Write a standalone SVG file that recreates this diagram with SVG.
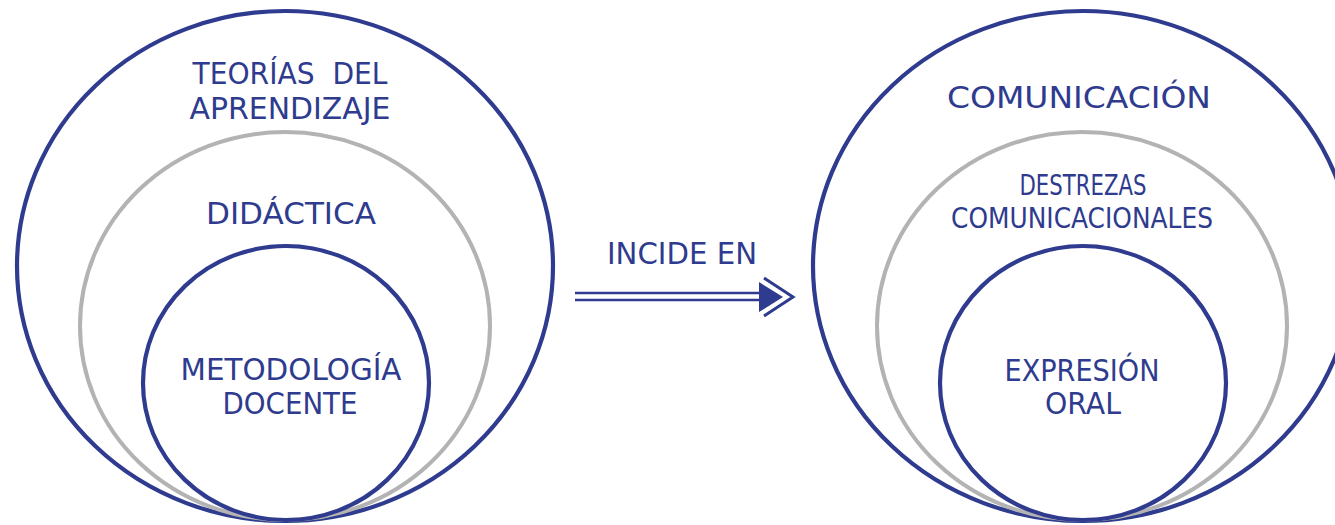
<svg xmlns="http://www.w3.org/2000/svg" width="1335" height="525" viewBox="0 0 1335 525">
<style>
.bg{fill:#ffffff}
.blue{fill:none;stroke:#2e3b8e;stroke-width:4.2}
.gray{fill:none;stroke:#b3b3b3;stroke-width:4}
.t{font-family:"DejaVu Sans","Liberation Sans",sans-serif;fill:#2e3b8e;text-anchor:middle;font-size:31px}
.m{font-size:30px}
.s{font-size:29px}
.ln{stroke:#2e3b8e;stroke-width:2.5;fill:none}
</style>
<rect class="bg" x="0" y="0" width="1335" height="525"/>
<g id="teorias">
<ellipse class="blue" cx="285" cy="266" rx="268" ry="255"/>
<text class="t m" x="290" y="84" textLength="195" lengthAdjust="spacingAndGlyphs" xml:space="preserve">TEORÍAS  DEL</text>
<text class="t m" x="290" y="119" textLength="201" lengthAdjust="spacingAndGlyphs">APRENDIZAJE</text>
</g>
<g id="didactica">
<ellipse class="gray" cx="285" cy="326" rx="205" ry="194"/>
<text class="t" x="291" y="224" textLength="170" lengthAdjust="spacingAndGlyphs">DIDÁCTICA</text>
</g>
<g id="metodologia">
<ellipse class="blue" cx="286" cy="383" rx="143" ry="137"/>
<text class="t" x="291" y="380" textLength="221" lengthAdjust="spacingAndGlyphs">METODOLOGÍA</text>
<text class="t" x="290" y="414" textLength="135" lengthAdjust="spacingAndGlyphs">DOCENTE</text>
</g>
<g id="comunicacion">
<ellipse class="blue" cx="1083" cy="266" rx="270" ry="255"/>
<text class="t" x="1079" y="108" textLength="264" lengthAdjust="spacingAndGlyphs">COMUNICACIÓN</text>
</g>
<g id="destrezas">
<ellipse class="gray" cx="1082" cy="326" rx="205" ry="194"/>
<text class="t s" x="1083" y="195" textLength="127" lengthAdjust="spacingAndGlyphs">DESTREZAS</text>
<text class="t s" x="1082" y="228" textLength="262" lengthAdjust="spacingAndGlyphs">COMUNICACIONALES</text>
</g>
<g id="expresion">
<ellipse class="blue" cx="1083" cy="383" rx="143" ry="137"/>
<text class="t" x="1082" y="381" textLength="155" lengthAdjust="spacingAndGlyphs">EXPRESIÓN</text>
<text class="t" x="1083" y="414" textLength="76" lengthAdjust="spacingAndGlyphs">ORAL</text>
</g>
<g id="connectors">
<text class="t" x="682" y="264" font-size="30" textLength="150" lengthAdjust="spacingAndGlyphs">INCIDE EN</text>
<line class="ln" x1="575" y1="293" x2="762" y2="293"/>
<line class="ln" x1="575" y1="300" x2="762" y2="300"/>
<polygon points="759,282 759,312 783,297" fill="#2e3b8e"/>
<polyline points="764,278 793,297 764,316" fill="none" stroke="#2e3b8e" stroke-width="3"/>
</g>
</svg>
